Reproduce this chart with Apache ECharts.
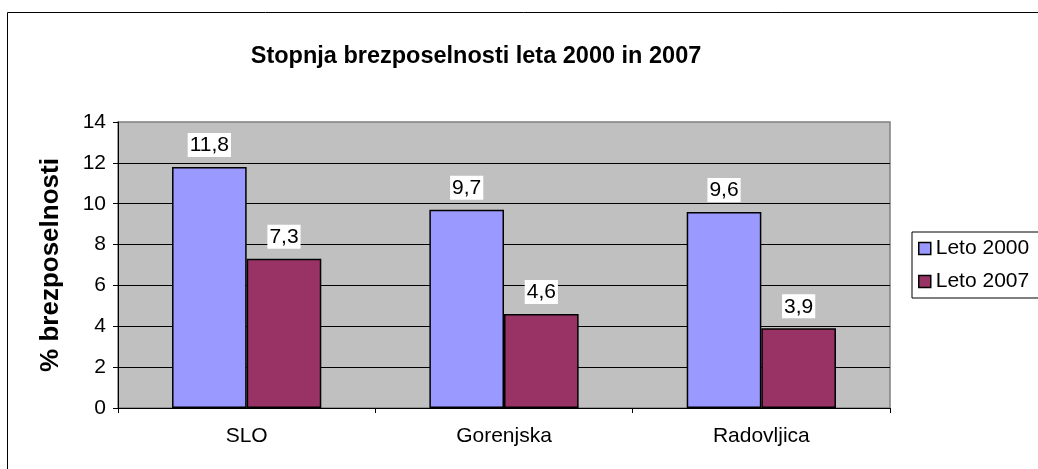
<!DOCTYPE html>
<html style="height: 100%">
<head>
    <meta charset="utf-8">
    <script src="https://cdn.jsdelivr.net/npm/echarts@6/dist/echarts.min.js"></script>
    <title>Stopnja brezposelnosti</title>
</head>
<body style="height: 100%; margin: 0; background: #fff">
<div id="container" style="width: 1038px; height: 469px"></div>
<script type="text/javascript">
let categories = ['SLO', 'Gorenjska', 'Radovljica'];
let leto2000 = [11.8, 9.7, 9.6];
let leto2007 = [7.3, 4.6, 3.9];
let seriesNames = ['Leto 2000', 'Leto 2007'];

const font = 'Arial, "Liberation Sans", sans-serif';
function comma(p) {
    return String(p.value).replace('.', ',');
}
function barLabel() {
    return {
        show: true,
        position: 'top',
        distance: 10,
        formatter: comma,
        color: '#000',
        fontFamily: font,
        fontSize: 21,
        backgroundColor: '#fff',
        padding: [2, 2, 1, 2]
    };
}

let chart = echarts.init(document.getElementById('container'));
chart.setOption({
    animation: false,
    title: {
        text: 'Stopnja brezposelnosti leta 2000 in 2007',
        left: 471,
        textAlign: 'center',
        top: 40,
        textStyle: {fontFamily: font, fontSize: 23.5, fontWeight: 'bold', color: '#000'}
    },
    graphic: [{
        type: 'rect',
        shape: {x: 7.5, y: 12.5, width: 1100, height: 600},
        style: {fill: null, stroke: '#000', lineWidth: 1}
    }],
    legend: {
        orient: 'vertical',
        left: 912,
        top: 232,
        data: seriesNames,
        icon: 'rect',
        itemWidth: 12,
        itemHeight: 12,
        itemGap: 12,
        padding: [6, 40, 6, 6],
        borderColor: '#000',
        borderWidth: 1,
        textStyle: {fontFamily: font, fontSize: 21, color: '#000', padding: [0, 0, 0, 0]},
        itemStyle: {borderColor: '#000', borderWidth: 1.5}
    },
    grid: {
        left: 118,
        right: 148,
        top: 122,
        bottom: 61,
        show: true,
        backgroundColor: '#C0C0C0',
        borderColor: '#808080',
        borderWidth: 1.5
    },
    xAxis: {
        type: 'category',
        data: categories,
        axisLine: {lineStyle: {color: '#000', width: 1}},
        axisTick: {show: true, length: 5, lineStyle: {color: '#000'}},
        axisLabel: {fontFamily: font, fontSize: 21, color: '#000', margin: 18}
    },
    yAxis: {
        type: 'value',
        min: 0,
        max: 14,
        interval: 2,
        name: '% brezposelnosti',
        nameLocation: 'middle',
        nameGap: 54,
        nameTextStyle: {fontFamily: font, fontSize: 26, fontWeight: 'bold', color: '#000'},
        axisLine: {show: true, lineStyle: {color: '#000', width: 1}},
        axisTick: {show: true, length: 5, lineStyle: {color: '#000'}},
        axisLabel: {fontFamily: font, fontSize: 21, color: '#000', margin: 12},
        splitLine: {show: true, showMaxLine: false, lineStyle: {color: '#000', width: 1}}
    },
    series: [
        {
            name: seriesNames[0],
            type: 'bar',
            data: leto2000,
            barGap: '0%',
            barCategoryGap: '42%',
            itemStyle: {color: '#9999FF', borderColor: '#000', borderWidth: 1.5},
            label: barLabel()
        },
        {
            name: seriesNames[1],
            type: 'bar',
            data: leto2007,
            itemStyle: {color: '#993366', borderColor: '#000', borderWidth: 1.5},
            label: barLabel()
        }
    ]
});
</script>
</body>
</html>
